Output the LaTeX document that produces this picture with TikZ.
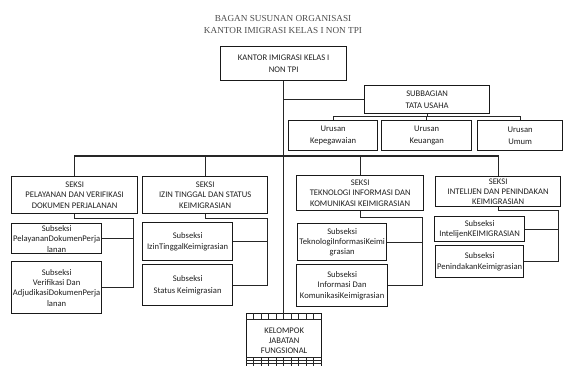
\documentclass[tikz,border=0pt]{standalone}
\usepackage{fontspec}
\newfontfamily\boxfont{Carlito}
\newfontfamily\titlefont{Liberation Serif}
% [opts]{name}{x1}{y1}{x2}{y2}{text}
\newcommand\ob[7][]{\node[box,minimum width={#5-#3},minimum height={#6-#4},#1] (#2) at (#3,#4) {#7};}
\begin{document}
\begin{tikzpicture}[x=1pt,y=-1pt,
  box/.style={draw=black!90, line width=1.3pt, align=center, inner sep=0pt, anchor=north west,
    text=black!88, font=\boxfont\fontsize{8.6}{10.4}\selectfont},
  wide/.style={font=\boxfont\fontsize{8.6}{11.6}\selectfont},
  conn/.style={draw=black!85, line width=0.85pt},
  gridline/.style={draw=black!85, line width=0.75pt},
  titletext/.style={font=\titlefont\fontsize{9.2}{11}\selectfont, text=black!70, inner sep=0pt}]
\useasboundingbox (0,0) rectangle (565,365);
\clip (0,0) rectangle (565,365);

\node[titletext] (t1) at (283,18) {BAGAN SUSUNAN ORGANISASI};
\node[titletext] (t2) at (283,30) {KANTOR IMIGRASI KELAS I NON TPI};

\ob[wide]{main}{220}{46}{346}{80}{KANTOR IMIGRASI KELAS I\\NON TPI}
\ob[wide]{sub}{364}{85}{489}{113}{SUBBAGIAN\\TATA USAHA}
\ob[wide]{u1}{288}{120}{377}{150}{Urusan\\Kepegawaian}
\ob[wide]{u2}{381}{120}{471}{150}{Urusan\\Keuangan}
\ob[wide]{u3}{477}{120}{562}{150}{Urusan\\Umum}

\ob{s1}{11}{176}{137}{213}{SEKSI\\PELAYANAN DAN VERIFIKASI\\DOKUMEN PERJALANAN}
\ob{s2}{142}{176}{267}{213}{SEKSI\\IZIN TINGGAL DAN STATUS\\KEIMIGRASIAN}
\ob{s3}{296}{175}{423}{210}{SEKSI\\TEKNOLOGI INFORMASI DAN\\KOMUNIKASI KEIMIGRASIAN}
\ob{s4}{435}{176}{560}{206}{SEKSI\\INTELIJEN DAN PENINDAKAN\\KEIMIGRASIAN}

\ob{ss1a}{11}{223}{101}{253}{Subseksi\\PelayananDokumenPerja\\lanan}
\ob{ss1b}{11}{261}{101}{313}{Subseksi\\Verifikasi Dan\\AdjudikasiDokumenPerja\\lanan}
\ob[wide]{ss2a}{142}{222}{232}{260}{Subseksi\\IzinTinggalKeimigrasian}
\ob[wide]{ss2b}{142}{264}{232}{305}{Subseksi\\Status Keimigrasian}
\ob{ss3a}{297}{223}{386}{260}{Subseksi\\TeknologiInformasiKeimi\\grasian}
\ob{ss3b}{296}{264}{387}{306}{Subseksi\\Informasi Dan\\KomunikasiKeimigrasian}
\ob{ss4a}{434}{216}{524}{241}{Subseksi\\IntelijenKEIMIGRASIAN}
\ob{ss4b}{435}{245}{523}{277}{Subseksi\\PenindakanKeimigrasian}

\ob[text depth=0pt]{kel}{246}{313}{321}{367}{KELOMPOK\\JABATAN\\FUNGSIONAL}

% trunk and subbagian
\draw[conn] (main.south) -- (main.south |- kel.north);
\draw[conn] (main.south |- sub.west) -- (sub.west);

% urusan bus
\coordinate (ubus) at (0,116);
\draw[conn] (sub.south) -- (sub.south |- ubus);
\draw[conn] (u1.north) |- (u3.north |- ubus) -- (u3.north);
\draw[conn] (u2.north) -- (u2.north |- ubus);

% seksi bus
\coordinate (sbus) at (0,156);
\draw[conn, line width=1.1pt] (s1.north) |- (s4.north |- sbus) -- (s4.north);
\draw[conn] (s2.north) -- (s2.north |- sbus);
\draw[conn] (s3.north) -- (s3.north |- sbus);

% subseksi brackets
\coordinate (b1) at (133,218);
\coordinate (b2) at (267,218);
\coordinate (b3) at (422,217);
\coordinate (b4) at (558,210);
\draw[conn] (s1.south) |- (b1) |- (ss1b.east);
\draw[conn] (b1) |- (ss1a.east);
\draw[conn] (s2.south) |- (b2) |- (ss2b.east);
\draw[conn] (b2) |- (ss2a.east);
\draw[conn] (s3.south) |- (b3) |- (ss3b.east);
\draw[conn] (b3) |- (ss3a.east);
\draw[conn] (s4.south) |- (b4) |- (ss4b.east);
\draw[conn] (b4) |- (ss4a.east);

% kelompok grid
\draw[gridline] ([yshift=-6pt]kel.north west) -- ([yshift=-6pt]kel.north east);
\foreach \i in {1,...,9}
  \draw[gridline] ([xshift=\i*7.5pt]kel.north west) -- ++(0,6);
\foreach \yy in {357,360,363}
  \draw[gridline] (kel.west |- 0,\yy) -- (kel.east |- 0,\yy);
\foreach \i in {1,...,9}
  \draw[gridline] ([xshift=\i*7.5pt]kel.west |- 0,357) -- ++(0,10);
\end{tikzpicture}
\end{document}
